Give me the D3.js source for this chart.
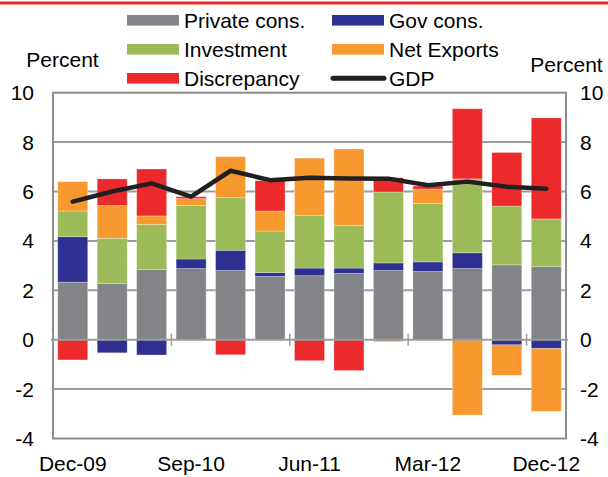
<!DOCTYPE html>
<meta charset="utf-8">
<style>
body { margin: 0; background: #fff; }
text { font-family: "Liberation Sans", Arial, sans-serif; fill: #000; }
</style>
<body>
<script src="https://d3js.org/d3.v7.min.js"></script>
<script>
var quarters = ["Dec-09","Mar-10","Jun-10","Sep-10","Dec-10","Mar-11","Jun-11",
                "Sep-11","Dec-11","Mar-12","Jun-12","Sep-12","Dec-12"];
var privateCons = [2.33, 2.28, 2.84, 2.88, 2.80, 2.56, 2.59, 2.68, 2.80, 2.76, 2.88, 3.03, 2.96];
var govCons     = [1.84, -0.53, -0.62, 0.39, 0.82, 0.16, 0.31, 0.22, 0.31, 0.39, 0.64, -0.21, -0.36];
var investment  = [1.04, 1.83, 1.83, 2.17, 2.13, 1.68, 2.14, 1.72, 2.87, 2.36, 2.99, 2.38, 1.93];
var netExports  = [1.19, 1.32, 0.34, 0.27, 1.66, 0.81, 2.31, 3.10, -0.08, 0.59, -3.05, -1.23, -2.54];
var discrepancy = [-0.82, 1.08, 1.90, 0.08, -0.61, 1.23, -0.85, -1.25, 0.58, 0.12, 2.84, 2.17, 4.09];
var gdp         = [5.59, 6.00, 6.33, 5.79, 6.84, 6.46, 6.56, 6.53, 6.52, 6.25, 6.40, 6.19, 6.11];
var yTicks = [-4, -2, 0, 2, 4, 6, 8, 10];
var xLabelIdx = [0, 3, 6, 9, 12];

var series = [
  {name: "Private cons.", values: privateCons, color: "#838488"},
  {name: "Gov cons.",     values: govCons,     color: "#2e3192"},
  {name: "Investment",    values: investment,  color: "#9bbb59"},
  {name: "Net Exports",   values: netExports,  color: "#f7992e"},
  {name: "Discrepancy",   values: discrepancy, color: "#ed2a2b"}
];

var W = 608, H = 477;
var plot = {left: 53, right: 566, top: 92.7, bottom: 438.5};

var svg = d3.select("body").append("svg").attr("width", W).attr("height", H);

// red rule across the top
svg.append("rect").attr("x", 0).attr("y", 1.5).attr("width", W).attr("height", 3).attr("fill", "#e8282a");

var x = d3.scaleBand().domain(quarters).range([plot.left, plot.right])
  .paddingInner(0.24).paddingOuter(0.12);
var y = d3.scaleLinear().domain([-4, 10]).range([plot.bottom, plot.top]);

// gridlines (behind bars)
svg.append("g").selectAll("line").data(yTicks.filter(function(d){ return d != 0 && d != -4 && d != 10; }))
  .enter().append("line")
  .attr("x1", plot.left).attr("x2", plot.right)
  .attr("y1", function(d){ return y(d); }).attr("y2", function(d){ return y(d); })
  .attr("stroke", "#9c9c9c").attr("stroke-width", 2);

// stacked bars: positives up from 0, negatives down from 0
var segs = [];
quarters.forEach(function(q, i){
  var pos = 0, neg = 0;
  series.forEach(function(s){
    var v = s.values[i];
    if (v >= 0) { segs.push({q: q, y0: pos, y1: pos + v, color: s.color}); pos += v; }
    else { segs.push({q: q, y0: neg + v, y1: neg, color: s.color}); neg += v; }
  });
});
svg.append("g").selectAll("rect").data(segs).enter().append("rect")
  .attr("x", function(d){ return x(d.q); })
  .attr("width", x.bandwidth())
  .attr("y", function(d){ return y(d.y1); })
  .attr("height", function(d){ return y(d.y0) - y(d.y1); })
  .attr("fill", function(d){ return d.color; })
  .attr("stroke", "#fff").attr("stroke-opacity", 0.35).attr("stroke-width", 0.8);

// frame
svg.append("rect").attr("x", plot.left).attr("y", plot.top)
  .attr("width", plot.right - plot.left).attr("height", plot.bottom - plot.top)
  .attr("fill", "none").attr("stroke", "#8c8c8c").attr("stroke-width", 2);

// zero axis with ticks every third quarter
svg.append("line").attr("x1", plot.left - 2).attr("x2", plot.right + 2)
  .attr("y1", y(0)).attr("y2", y(0)).attr("stroke", "#9c9c9c").attr("stroke-width", 2);
svg.append("g").selectAll("line").data(xLabelIdx).enter().append("line")
  .attr("x1", function(i){ return x(quarters[i]) - x.step() * x.paddingInner() / 2; })
  .attr("x2", function(i){ return x(quarters[i]) - x.step() * x.paddingInner() / 2; })
  .attr("y1", y(0) - 6).attr("y2", y(0) + 6)
  .attr("stroke", "#9c9c9c").attr("stroke-width", 1.5);

// GDP line
var line = d3.line()
  .x(function(d, i){ return x(quarters[i]) + x.bandwidth() / 2; })
  .y(function(d){ return y(d); });
svg.append("path").datum(gdp).attr("d", line)
  .attr("fill", "none").attr("stroke", "#231f20").attr("stroke-width", 4.5)
  .attr("stroke-linejoin", "round").attr("stroke-linecap", "round");

// y labels both sides
var fs = 21;
svg.append("g").selectAll("text").data(yTicks).enter().append("text")
  .attr("x", 34).attr("y", function(d){ return y(d); }).attr("dy", "0.36em")
  .attr("text-anchor", "end").style("font-size", fs + "px").text(function(d){ return d; });
svg.append("g").selectAll("text").data(yTicks).enter().append("text")
  .attr("x", 580).attr("y", function(d){ return y(d); }).attr("dy", "0.36em")
  .attr("text-anchor", "start").style("font-size", fs + "px").text(function(d){ return d; });

svg.append("text").attr("x", 62.5).attr("y", 66.5).attr("text-anchor", "middle")
  .style("font-size", fs + "px").text("Percent");
svg.append("text").attr("x", 566.5).attr("y", 71.5).attr("text-anchor", "middle")
  .style("font-size", fs + "px").text("Percent");

// x labels
svg.append("g").selectAll("text").data(xLabelIdx).enter().append("text")
  .attr("x", function(i){ return x(quarters[i]) + x.bandwidth() / 2; })
  .attr("y", 471).attr("text-anchor", "middle")
  .style("font-size", fs + "px").text(function(i){ return quarters[i]; });

// legend
var legendItems = [
  {name: "Private cons.", color: series[0].color, col: 0, row: 0},
  {name: "Gov cons.",     color: series[1].color, col: 1, row: 0},
  {name: "Investment",    color: series[2].color, col: 0, row: 1},
  {name: "Net Exports",   color: series[3].color, col: 1, row: 1},
  {name: "Discrepancy",   color: series[4].color, col: 0, row: 2},
  {name: "GDP",           color: "#231f20",      col: 1, row: 2, line: true}
];
var colX = [127, 332], rowY = [20.3, 49.3, 78.3];
var lg = svg.append("g").selectAll("g").data(legendItems).enter().append("g")
  .attr("transform", function(d){ return "translate(" + colX[d.col] + "," + rowY[d.row] + ")"; });
lg.filter(function(d){ return !d.line; }).append("rect")
  .attr("x", 0).attr("y", -5.3).attr("width", 52).attr("height", 10.6)
  .attr("fill", function(d){ return d.color; });
lg.filter(function(d){ return d.line; }).append("line")
  .attr("x1", 1).attr("x2", 52).attr("y1", 0).attr("y2", 0)
  .attr("stroke", function(d){ return d.color; }).attr("stroke-width", 5).attr("stroke-linecap", "round");
lg.append("text").attr("x", 57).attr("y", 0).attr("dy", "0.35em")
  .style("font-size", fs + "px").text(function(d){ return d.name; });
</script>
